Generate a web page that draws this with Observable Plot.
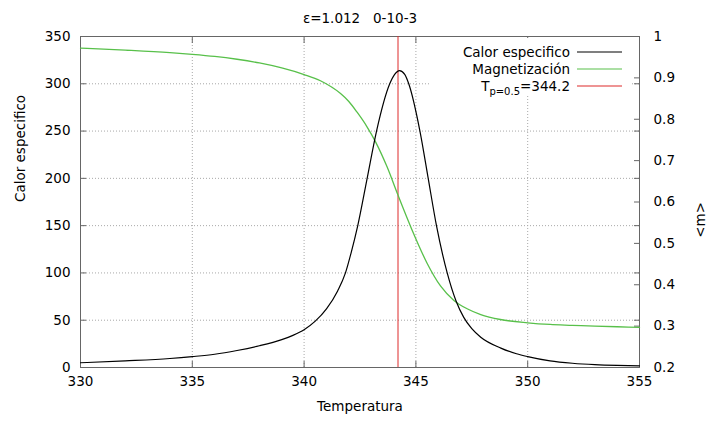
<!DOCTYPE html>
<html><head><meta charset="utf-8">
<script src="https://cdn.jsdelivr.net/npm/d3@7"></script>
<script src="https://cdn.jsdelivr.net/npm/@observablehq/plot@0.6"></script>
<style>body{margin:0;background:#fff;} svg{font-family:"DejaVu Sans",sans-serif;}</style>
</head><body><div id="chart"></div>
<script>
const title = "ε=1.012   0-10-3";
const xLabel = "Temperatura";
const yLabel = "Calor especifico";
const y2Label = "<m>";
const seriesNames = ["Calor especifico", "Magnetización"];
const tpLabel = "344.2";
const tp = 344.2;

// Calor especifico (left axis)
const cT = [330, 332, 334, 335, 336, 337, 338, 339, 339.5, 340, 340.5, 341, 341.5, 341.85, 342.1, 342.4, 342.82, 343.24, 343.83, 344.05, 344.27, 344.5, 344.68, 345.18, 345.55, 345.92, 346.4, 346.8, 347.14, 347.5, 347.9, 348.8, 349.5, 350, 351, 352, 353, 354, 355];
const cV = [5, 7, 9.5, 11.5, 14, 18, 23, 29.5, 34, 40, 49, 62, 81, 100, 121, 150, 200, 250, 300, 310, 314, 310, 300, 250, 200, 150, 100, 70, 53, 41, 32, 20.5, 14.5, 11.5, 7, 4.5, 3, 2.2, 1.8];

// Magnetización (right axis)
const mT = [330, 332, 334, 335, 336, 337, 338, 339, 340, 340.73, 341.63, 342, 342.37, 342.8, 343.19, 343.71, 344.19, 344.91, 345.5, 346.1, 346.7, 347.29, 347.9, 348.78, 350, 351, 352, 353, 354, 355];
const mV = [0.972, 0.967, 0.961, 0.957, 0.952, 0.945, 0.936, 0.924, 0.908, 0.893, 0.862, 0.843, 0.817, 0.783, 0.746, 0.685, 0.618, 0.522, 0.452, 0.397, 0.362, 0.342, 0.328, 0.316, 0.308, 0.304, 0.302, 0.300, 0.2985, 0.297];

const xTicks = [330, 335, 340, 345, 350, 355];
const yTicks = [0, 50, 100, 150, 200, 250, 300, 350];
const y2Ticks = [0.2, 0.3, 0.4, 0.5, 0.6, 0.7, 0.8, 0.9, 1];
const xDomain = [330, 355];
const yDomain = [0, 350];
const y2Domain = [0.2, 1];

const toLeft = d3.scaleLinear(y2Domain, yDomain);
const cData = cT.map((t, i) => ({t, v: cV[i]}));
const mData = mT.map((t, i) => ({t, v: toLeft(mV[i])}));

const frameColor = "#666";
const gridStyle = {stroke: "#a8a8a8", strokeOpacity: 1, strokeDasharray: "1,2"};
const redColor = "#dd2a2a";
const greenColor = "#58c04a";

const plot = Plot.plot({
  width: 708, height: 423,
  marginLeft: 80, marginRight: 69, marginTop: 36, marginBottom: 56,
  style: {fontFamily: "DejaVu Sans, sans-serif", fontSize: "13.5px", color: "#000", background: "#fff"},
  x: {domain: xDomain},
  y: {domain: yDomain},
  marks: [
    Plot.gridX(xTicks.slice(1, -1), gridStyle),
    Plot.gridY(yTicks.slice(1, -1), gridStyle),
    Plot.axisX(xTicks, {anchor: "bottom", tickSize: -6, tickPadding: 15, tickFormat: d => String(d), label: null, stroke: frameColor, color: "#000"}),
    Plot.axisX(xTicks, {anchor: "top", tickSize: -6, tickFormat: () => "", label: null, stroke: frameColor}),
    Plot.axisY(yTicks, {anchor: "left", tickSize: -6, tickPadding: 16, tickFormat: d => String(d), label: null, stroke: frameColor}),
    Plot.axisY(yTicks, {anchor: "right", tickSize: -6, tickFormat: () => "", label: null, stroke: frameColor}),
    Plot.axisY(y2Ticks.map(toLeft), {anchor: "right", tickSize: -6, tickPadding: 20, tickFormat: d => String(Math.round(toLeft.invert(d) * 10) / 10), label: null, stroke: frameColor}),
    Plot.frame({stroke: frameColor}),
    Plot.ruleX([tp], {stroke: redColor, strokeWidth: 1}),
    Plot.line(mData, {x: "t", y: "v", stroke: greenColor, strokeWidth: 1.3, curve: "monotone-x"}),
    Plot.line(cData, {x: "t", y: "v", stroke: "#000", strokeWidth: 1.2, curve: "monotone-x"}),
    Plot.text([title], {text: d => d, frameAnchor: "top", dy: -23, fontSize: 13.5, fill: "#000"}),
    Plot.text([xLabel], {text: d => d, frameAnchor: "bottom", dy: 43, fontSize: 13.5, fill: "#000"}),
    Plot.text([yLabel], {text: d => d, frameAnchor: "left", dx: -60, rotate: -90, fontSize: 13.5, fill: "#000"}),
    Plot.text([y2Label], {text: d => d, frameAnchor: "right", dx: 61, rotate: -90, fontSize: 13.5, fill: "#000"})
  ]
});

const svg = d3.select(plot);
svg.selectAll("text").style("white-space", "pre");
const key = svg.append("g").attr("font-family", "DejaVu Sans, sans-serif").attr("font-size", 13.5);
key.append("rect").attr("x", 431).attr("y", 38).attr("width", 200).attr("height", 58).attr("fill", "#fff");
const rows = [
  {label: seriesNames[0], color: "#000", y: 52},
  {label: seriesNames[1], color: greenColor, y: 69},
  {label: null, color: redColor, y: 86}
];
rows.forEach(r => {
  const t = key.append("text").attr("x", 570).attr("y", r.y).attr("dy", "0.35em").attr("text-anchor", "end");
  if (r.label) t.text(r.label);
  else {
    t.append("tspan").text("T");
    t.append("tspan").attr("font-size", 10).attr("dy", 4).text("p=0.5");
    t.append("tspan").attr("dy", -4).text("=" + tpLabel);
  }
  key.append("line").attr("x1", 577).attr("x2", 622).attr("y1", r.y).attr("y2", r.y).attr("stroke", r.color).attr("stroke-width", 1.2);
});

document.getElementById("chart").appendChild(plot);
</script>
</body></html>
